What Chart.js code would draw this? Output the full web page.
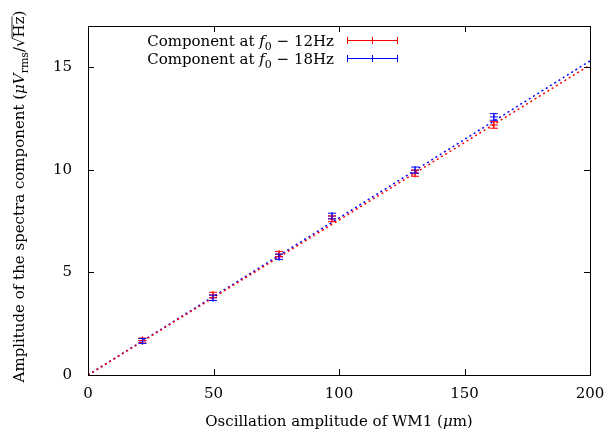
<!DOCTYPE html>
<html>
<head>
<meta charset="utf-8">
<script src="https://cdn.jsdelivr.net/npm/chart.js@4.4.0/dist/chart.umd.min.js"></script>
<style>
html, body { margin: 0; padding: 0; background: #fff; }
</style>
</head>
<body>
<canvas id="grafico" width="605" height="432"></canvas>
<script>
// datos
const amplitudes = [21.7, 49.8, 76.1, 97.2, 130.3, 161.7];
const comp12 = [1.68, 3.90, 5.89, 7.61, 9.83, 12.18];
const comp18 = [1.66, 3.76, 5.76, 7.74, 9.98, 12.57];
const err12 = [0.12, 0.13, 0.13, 0.14, 0.15, 0.16];
const err18 = [0.12, 0.13, 0.13, 0.14, 0.15, 0.16];
const ajusteX = [0, 200];
const ajuste12 = [0, 15.1];
const ajuste18 = [0, 15.3];
const xTicks = [0, 50, 100, 150, 200];
const yTicks = [0, 5, 10, 15];

const ROJO = '#ff0000';
const AZUL = '#0000ff';
const SERIF = '"DejaVu Serif", "Liberation Serif", serif';
const TAM = 15;

function fuente(r, size) {
  const s = r.sub ? Math.round(size * 0.7) : size;
  return (r.it ? 'italic ' : '') + s + 'px ' + SERIF;
}

// dibuja texto por tramos (italica, subindice, raya encima)
function dibujarTramos(ctx, tramos, x, y, align, size) {
  const anchos = tramos.map(r => { ctx.font = fuente(r, size); return ctx.measureText(r.t).width; });
  const total = anchos.reduce((a, b) => a + b, 0);
  let cx = align === 'center' ? x - total / 2 : align === 'right' ? x - total : x;
  ctx.textBaseline = 'alphabetic';
  ctx.textAlign = 'left';
  tramos.forEach((r, i) => {
    ctx.font = fuente(r, size);
    ctx.fillText(r.t, cx, y + (r.sub ? size * 0.25 : 0));
    if (r.over) {
      ctx.save();
      ctx.lineWidth = 0.8;
      ctx.beginPath();
      ctx.moveTo(cx - 1, y - size * 0.8);
      ctx.lineTo(cx + anchos[i], y - size * 0.8);
      ctx.stroke();
      ctx.restore();
    }
    cx += anchos[i];
  });
}

function puntos(ys) {
  return amplitudes.map((x, i) => ({ x, y: ys[i] }));
}

const plugin = {
  id: 'gnuplotLook',
  afterDatasetsDraw(chart) {
    const ctx = chart.ctx;
    const xs = chart.scales.x, ys = chart.scales.y;
    // barras de error
    [[comp12, err12, ROJO], [comp18, err18, AZUL]].forEach(([vals, errs, color]) => {
      ctx.save();
      ctx.strokeStyle = color;
      ctx.lineWidth = 1;
      vals.forEach((v, i) => {
        const px = xs.getPixelForValue(amplitudes[i]);
        const y1 = ys.getPixelForValue(v - errs[i]);
        const y2 = ys.getPixelForValue(v + errs[i]);
        ctx.beginPath();
        ctx.moveTo(px, y1); ctx.lineTo(px, y2);
        ctx.moveTo(px - 4, y1); ctx.lineTo(px + 4, y1);
        ctx.moveTo(px - 4, y2); ctx.lineTo(px + 4, y2);
        ctx.stroke();
      });
      ctx.restore();
    });
  },
  afterDraw(chart) {
    const ctx = chart.ctx;
    const a = chart.chartArea;
    const xs = chart.scales.x, ys = chart.scales.y;
    ctx.save();
    ctx.strokeStyle = '#000';
    ctx.fillStyle = '#000';
    ctx.lineWidth = 1;
    // marco y marcas hacia dentro
    ctx.strokeRect(a.left + 0.5, a.top + 0.5, a.right - a.left, a.bottom - a.top);
    ctx.beginPath();
    xTicks.forEach(t => {
      const px = Math.round(xs.getPixelForValue(t)) + 0.5;
      ctx.moveTo(px, a.bottom); ctx.lineTo(px, a.bottom - 6);
      ctx.moveTo(px, a.top); ctx.lineTo(px, a.top + 6);
    });
    yTicks.forEach(t => {
      const py = Math.round(ys.getPixelForValue(t)) + 0.5;
      ctx.moveTo(a.left, py); ctx.lineTo(a.left + 6, py);
      ctx.moveTo(a.right, py); ctx.lineTo(a.right - 6, py);
    });
    ctx.stroke();

    // titulo eje x
    dibujarTramos(ctx, [
      { t: 'Oscillation amplitude of WM1 (' },
      { t: 'μ', it: true },
      { t: 'm)' }
    ], (a.left + a.right) / 2, 426, 'center', TAM);

    // titulo eje y
    ctx.save();
    ctx.translate(24, (a.top + a.bottom) / 2 - 4);
    ctx.rotate(-Math.PI / 2);
    dibujarTramos(ctx, [
      { t: 'Amplitude of the spectra component (' },
      { t: 'μV', it: true },
      { t: 'rms', sub: true },
      { t: '/√' },
      { t: 'Hz', over: true },
      { t: ')' }
    ], 0, 0, 'center', TAM);
    ctx.restore();

    // leyenda
    const filas = [['12Hz', ROJO, 40], ['18Hz', AZUL, 58]];
    filas.forEach(([hz, color, y]) => {
      dibujarTramos(ctx, [
        { t: 'Component at ' },
        { t: 'f', it: true },
        { t: '0', sub: true },
        { t: ' − ' + hz }
      ], 334, y + 6, 'right', TAM);
      ctx.save();
      ctx.strokeStyle = color;
      ctx.beginPath();
      ctx.moveTo(347, y + 0.5); ctx.lineTo(398, y + 0.5);
      ctx.moveTo(347.5, y - 3); ctx.lineTo(347.5, y + 4);
      ctx.moveTo(397.5, y - 3); ctx.lineTo(397.5, y + 4);
      ctx.moveTo(372.5, y - 3); ctx.lineTo(372.5, y + 4);
      ctx.stroke();
      ctx.restore();
    });
    ctx.restore();
  }
};

const ctx = document.getElementById('grafico').getContext('2d');
new Chart(ctx, {
  type: 'scatter',
  data: {
    datasets: [
      {
        label: 'ajuste 12Hz',
        data: ajusteX.map((x, i) => ({ x, y: ajuste12[i] })),
        showLine: true,
        borderColor: ROJO,
        borderWidth: 1.5,
        borderDash: [2, 3],
        pointRadius: 0,
      },
      {
        label: 'ajuste 18Hz',
        data: ajusteX.map((x, i) => ({ x, y: ajuste18[i] })),
        showLine: true,
        borderColor: AZUL,
        borderWidth: 1.5,
        borderDash: [2, 3],
        pointRadius: 0,
      },
      {
        label: 'Component at f0 - 12Hz',
        data: puntos(comp12),
        pointStyle: 'cross',
        pointRadius: 4,
        borderColor: ROJO,
        borderWidth: 1,
      },
      {
        label: 'Component at f0 - 18Hz',
        data: puntos(comp18),
        pointStyle: 'cross',
        pointRadius: 4,
        borderColor: AZUL,
        borderWidth: 1,
      },
    ]
  },
  options: {
    responsive: false,
    animation: false,
    devicePixelRatio: 1,
    layout: { padding: { top: 26, right: 15, left: 0, bottom: 0 } },
    plugins: {
      legend: { display: false },
      tooltip: { enabled: false },
    },
    scales: {
      x: {
        type: 'linear',
        min: 0,
        max: 200,
        afterBuildTicks: s => { s.ticks = xTicks.map(v => ({ value: v })); },
        afterFit: s => { s.height = 57; s.paddingLeft = 0; s.paddingRight = 0; },
        grid: { display: false, drawTicks: false },
        border: { display: false },
        ticks: { color: '#000', padding: 10, font: { family: SERIF, size: TAM } },
      },
      y: {
        type: 'linear',
        min: 0,
        max: 17,
        afterBuildTicks: s => { s.ticks = yTicks.map(v => ({ value: v })); },
        afterFit: s => { s.width = 88; s.paddingTop = 0; s.paddingBottom = 0; },
        grid: { display: false, drawTicks: false },
        border: { display: false },
        ticks: { color: '#000', padding: 16, font: { family: SERIF, size: TAM } },
      },
    }
  },
  plugins: [plugin]
});
</script>
</body>
</html>
